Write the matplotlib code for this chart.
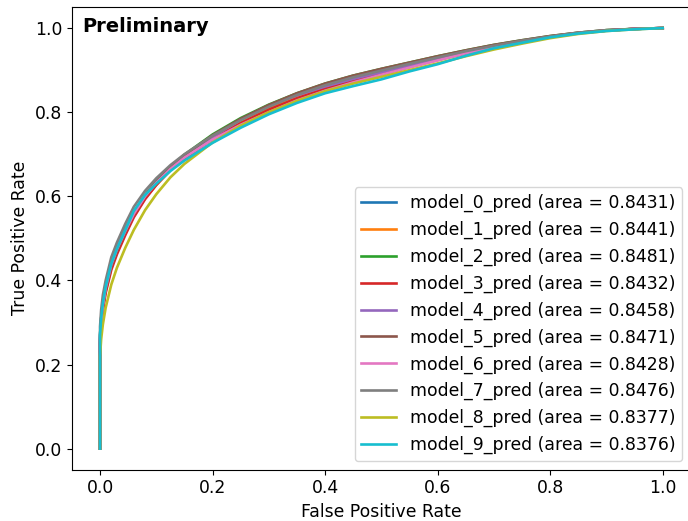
import matplotlib

matplotlib.use("Agg")

import matplotlib.pyplot as plt

# shared false-positive-rate grid
fpr = [0.0, 0.0, 0.002, 0.005, 0.01, 0.02, 0.03, 0.045, 0.06, 0.08, 0.1, 0.125, 0.15,
       0.2, 0.25, 0.3, 0.35, 0.4, 0.45, 0.5, 0.55, 0.6, 0.65, 0.7, 0.75, 0.8, 0.85,
       0.9, 0.95, 1.0]

tpr_model_0 = [0, 0.26, 0.30, 0.34, 0.38, 0.435, 0.47, 0.515, 0.555, 0.597, 0.628, 0.662, 0.69,
               0.735, 0.772, 0.805, 0.833, 0.856, 0.875, 0.892, 0.909, 0.925, 0.941, 0.956,
               0.969, 0.979, 0.988, 0.994, 0.998, 1.0]
tpr_model_1 = [0, 0.25, 0.29, 0.33, 0.375, 0.43, 0.468, 0.513, 0.553, 0.595, 0.627, 0.662, 0.69,
               0.737, 0.775, 0.808, 0.836, 0.859, 0.878, 0.895, 0.911, 0.927, 0.943, 0.957,
               0.969, 0.980, 0.988, 0.994, 0.998, 1.0]
tpr_model_2 = [0, 0.27, 0.31, 0.345, 0.385, 0.44, 0.478, 0.522, 0.562, 0.603, 0.636, 0.671, 0.699,
               0.747, 0.786, 0.818, 0.845, 0.868, 0.887, 0.903, 0.918, 0.933, 0.947, 0.960,
               0.971, 0.981, 0.989, 0.995, 0.998, 1.0]
tpr_model_3 = [0, 0.25, 0.29, 0.33, 0.37, 0.425, 0.462, 0.508, 0.55, 0.593, 0.627, 0.663, 0.691,
               0.737, 0.774, 0.806, 0.833, 0.856, 0.875, 0.892, 0.908, 0.924, 0.94, 0.955,
               0.968, 0.979, 0.988, 0.994, 0.998, 1.0]
tpr_model_4 = [0, 0.27, 0.31, 0.345, 0.385, 0.44, 0.477, 0.521, 0.561, 0.602, 0.633, 0.667, 0.694,
               0.741, 0.782, 0.815, 0.840, 0.861, 0.879, 0.895, 0.911, 0.927, 0.942, 0.956,
               0.969, 0.979, 0.988, 0.994, 0.998, 1.0]
tpr_model_5 = [0, 0.26, 0.30, 0.338, 0.378, 0.433, 0.47, 0.516, 0.557, 0.6, 0.633, 0.669, 0.697,
               0.745, 0.784, 0.817, 0.845, 0.868, 0.887, 0.903, 0.918, 0.933, 0.947, 0.96,
               0.971, 0.981, 0.989, 0.995, 0.998, 1.0]
tpr_model_6 = [0, 0.26, 0.30, 0.34, 0.382, 0.438, 0.474, 0.518, 0.558, 0.6, 0.632, 0.665, 0.692,
               0.735, 0.77, 0.800, 0.828, 0.851, 0.871, 0.889, 0.906, 0.923, 0.94, 0.955,
               0.968, 0.979, 0.988, 0.994, 0.998, 1.0]
tpr_model_7 = [0, 0.29, 0.33, 0.365, 0.40, 0.455, 0.49, 0.535, 0.575, 0.613, 0.643, 0.674, 0.70,
               0.744, 0.781, 0.813, 0.841, 0.864, 0.883, 0.899, 0.915, 0.93, 0.945, 0.958,
               0.97, 0.98, 0.989, 0.995, 0.998, 1.0]
tpr_model_8 = [0, 0.22, 0.26, 0.295, 0.335, 0.39, 0.43, 0.478, 0.52, 0.567, 0.605, 0.645, 0.677,
               0.728, 0.768, 0.80, 0.827, 0.85, 0.868, 0.884, 0.9, 0.916, 0.933, 0.949,
               0.963, 0.976, 0.986, 0.993, 0.997, 1.0]
tpr_model_9 = [0, 0.27, 0.31, 0.345, 0.385, 0.44, 0.475, 0.52, 0.565, 0.603, 0.63, 0.66, 0.685,
               0.727, 0.763, 0.795, 0.822, 0.845, 0.862, 0.878, 0.897, 0.914, 0.934, 0.952,
               0.965, 0.978, 0.987, 0.993, 0.997, 1.0]

model_names = [f"model_{i}_pred" for i in range(10)]
model_areas = [0.8431, 0.8441, 0.8481, 0.8432, 0.8458, 0.8471, 0.8428, 0.8476, 0.8377, 0.8376]
model_tprs = [tpr_model_0, tpr_model_1, tpr_model_2, tpr_model_3, tpr_model_4,
              tpr_model_5, tpr_model_6, tpr_model_7, tpr_model_8, tpr_model_9]

plt.rcParams["font.size"] = 12.4

fig = plt.figure(figsize=(6.88, 5.21), dpi=100)
ax = fig.add_axes([0.1045, 0.0985, 0.8996, 0.888])

for name, area, tpr in zip(model_names, model_areas, model_tprs):
    ax.plot(fpr, tpr, linewidth=1.9, label=f"{name} (area = {area:.4f})")

ax.set_xlabel("False Positive Rate")
ax.set_ylabel("True Positive Rate")
ax.legend(loc="lower right")
ax.text(0.016, 0.978, "Preliminary", transform=ax.transAxes, va="top", ha="left",
        fontweight="bold", fontsize=14)

fig.savefig("out.png", dpi=100)
